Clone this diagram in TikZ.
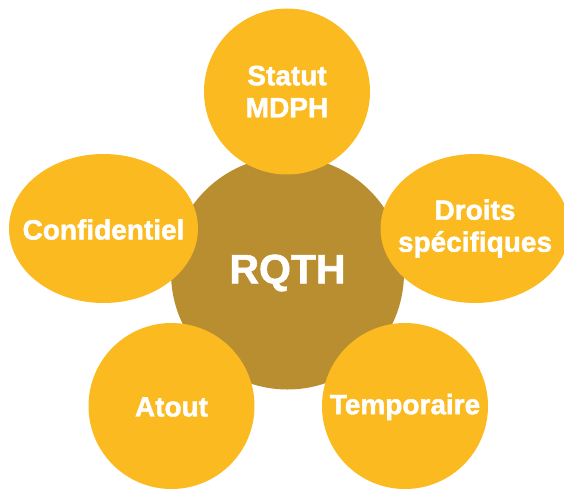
\documentclass[tikz,border=0pt]{standalone}
\usepackage{fontspec}
\setmainfont{Liberation Sans}
\newfontfamily\heavyfont{Liberation Sans}[BoldFeatures={FakeBold=1.5}]
\usetikzlibrary{shapes.geometric}
\definecolor{petalfill}{RGB}{251,186,32}
\definecolor{corefill}{RGB}{185,142,48}

\begin{document}
\begin{tikzpicture}[
    x=1pt, y=1pt,
    petal/.style = {
        circle, fill=petalfill, draw=none,
        inner sep=0pt, minimum size=166pt
    },
    petaloval/.style = {
        ellipse, fill=petalfill, draw=none,
        inner sep=0pt, minimum width=189pt, minimum height=149pt
    },
    core/.style = {
        circle, fill=corefill, draw=none,
        inner sep=0pt, minimum size=233pt
    },
    lbl/.style = {
        text=white, align=center, inner sep=0pt,
        font=\heavyfont\bfseries\fontsize{28}{32}\selectfont
    },
    mainlbl/.style = {
        text=white, inner sep=0pt,
        font=\heavyfont\bfseries\fontsize{41}{45}\selectfont
    },
]
\useasboundingbox (0,0) rectangle (564,488);
\clip (0,0) rectangle (564,488);

% Centre
\node[core] (rqth) at (287.5,215) {};
\node[mainlbl] at (rqth) {RQTH};

% Petals
\node[petal] (statut) at (287,396.5) {};
\node[petaloval] (conf) at (103.5,259.5) {};
\node[petaloval] (droits) at (475,259.5) {};
\node[petal] (atout) at (171.5,82) {};
\node[petal] (temp) at (405,82) {};

% Labels
\node[lbl] at (statut) {Statut\\MDPH};
\node[lbl, yshift=-1pt] at (conf) {Confidentiel};
\node[lbl] at (droits) {Droits\\spécifiques};
\node[lbl, yshift=-1pt] at (atout) {Atout};
\node[lbl, yshift=-1pt] at (temp) {Temporaire};

\end{tikzpicture}
\end{document}
